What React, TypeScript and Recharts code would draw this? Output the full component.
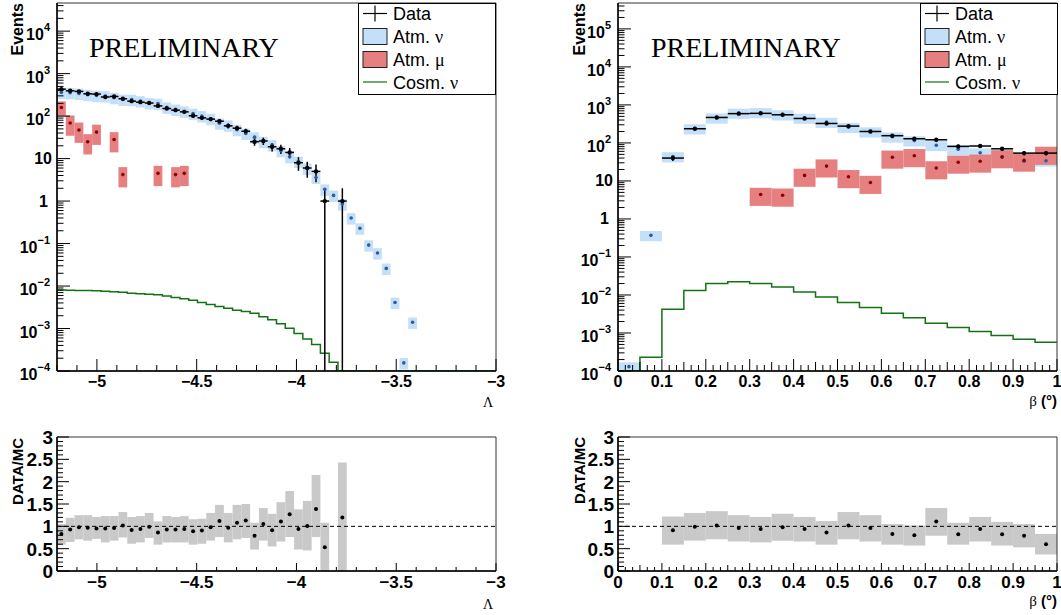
import {
  ComposedChart,
  XAxis,
  YAxis,
  Scatter,
  Line,
  ErrorBar,
  ReferenceArea,
  ReferenceLine,
  Legend,
} from "recharts";

const SANS = '"Liberation Sans", Arial, Helvetica, sans-serif';
const SERIF = '"Liberation Serif", "Times New Roman", serif';

const BLUE = "#c4dff8";
const BLUE_DOT = "#2b5c9c";
const RED = "#e68080";
const RED_DOT = "#8b0000";
const GREEN = "#137313";
const GREY = "#c9c9c9";

const YMIN = 1e-4;
const NU_ERR = 0.3;

// ---- Lambda distribution: 50 bins from -5.2 to -3 ----
const lambdaRange = [-5.2, -3];
const lambdaData = [
  431, 394, 381, 335, 330, 282, 290, 256, 225, 213,
  203, 174, 151, 138, 126, 102, 91, 85, 76, 59,
  52, 44, 25, 26, 19, 17, 14, 8, 6, 5,
  1, 0, 1, 0, 0, 0, 0, 0, 0, 0,
  0, 0, 0, 0, 0, 0, 0, 0, 0, 0,
];
const lambdaNu = [
  359, 355, 342, 320, 305, 297, 272, 247, 245, 227,
  205, 198, 162, 144, 130, 115, 101, 87, 68, 61,
  48, 39, 32, 25, 21, 15.3, 11, 8.5, 5.9, 3.6,
  1.9, 1.36, 0.85, 0.4, 0.23, 0.092, 0.06, 0.026, 0.0041, 0.000155,
  0.0014, 0, 0, 0, 0, 0, 0, 0, 0, 0,
];
const lambdaMu = [
  160, 69, 47, 25, 42, 0, 28, 4.2, 0, 0,
  0, 4.5, 0, 4.2, 4.5, 0, 0, 0, 0, 0,
  0, 0, 0, 0, 0, 0, 0, 0, 0, 0,
  0, 0, 0, 0, 0, 0, 0, 0, 0, 0,
  0, 0, 0, 0, 0, 0, 0, 0, 0, 0,
];
const lambdaMuErr = [
  0.38, 0.5, 0.5, 0.5, 0.5, 0.5, 0.5, 0.5, 0.5, 0.5,
  0.5, 0.5, 0.5, 0.5, 0.5, 0.5, 0.5, 0.5, 0.5, 0.5,
  0.5, 0.5, 0.5, 0.5, 0.5, 0.5, 0.5, 0.5, 0.5, 0.5,
  0.5, 0.5, 0.5, 0.5, 0.5, 0.5, 0.5, 0.5, 0.5, 0.5,
  0.5, 0.5, 0.5, 0.5, 0.5, 0.5, 0.5, 0.5, 0.5, 0.5,
];
const lambdaCosm = [
  0.0081, 0.008, 0.0079, 0.0078, 0.0077, 0.0075, 0.0073, 0.0071, 0.0068, 0.0066,
  0.0064, 0.0062, 0.0058, 0.0054, 0.005, 0.0046, 0.0041, 0.0037, 0.0033, 0.003,
  0.0027, 0.0025, 0.0023, 0.0019, 0.0016, 0.0013, 0.00101, 0.00076, 0.00057, 0.00042,
  0.00026, 0.00016, 0, 0, 0, 0, 0, 0, 0, 0,
  0, 0, 0, 0, 0, 0, 0, 0, 0, 0,
];
const lambdaRatio = [
  0.83, 0.93, 0.98, 0.97, 0.95, 0.95, 0.965, 1.02, 0.92, 0.94,
  0.99, 0.86, 0.93, 0.93, 0.94, 0.89, 0.905, 0.98, 1.12, 0.97,
  1.08, 1.13, 0.79, 1.05, 0.91, 1.11, 1.27, 0.94, 1.01, 1.39,
  0.53, null, 1.2,
];
const lambdaRatioLo = [
  0.59, 0.65, 0.71, 0.68, 0.72, 0.64, 0.68, 0.75, 0.61, 0.64,
  0.74, 0.59, 0.64, 0.64, 0.64, 0.59, 0.61, 0.68, 0.76, 0.64,
  0.71, 0.74, 0.48, 0.68, 0.55, 0.66, 0.76, 0.48, 0.46, 0.76,
  0, null, 0,
];
const lambdaRatioHi = [
  1.05, 1.19, 1.25, 1.25, 1.21, 1.23, 1.23, 1.32, 1.21, 1.23,
  1.3, 1.11, 1.23, 1.21, 1.23, 1.16, 1.17, 1.3, 1.48, 1.3,
  1.48, 1.5, 1.08, 1.41, 1.28, 1.54, 1.79, 1.38, 1.57, 2.15,
  1.08, null, 2.43,
];

// ---- beta distribution: 20 bins from 0 to 1 deg ----
const betaRange = [0, 1];
const betaData = [0, 0, 40, 236, 468, 590, 600, 550, 440, 325, 277, 200, 155, 129, 121, 81, 83, 70, 54, 54];
const betaNu = [0.00013, 0.37, 44, 238, 459, 615, 634, 557, 454, 353, 259, 198, 145, 115, 87, 68, 55, 42, 33, 34];
const betaMu = [0, 0, 0, 0, 0, 0, 4.4, 4.2, 14, 24.6, 12.9, 9.1, 42, 46, 22, 31, 33, 43, 35, 53];
const betaMuErr = [0.5, 0.5, 0.5, 0.5, 0.5, 0.5, 0.5, 0.5, 0.5, 0.5, 0.5, 0.5, 0.5, 0.5, 0.5, 0.5, 0.5, 0.5, 0.5, 0.5];
const betaCosm = [
  0, 0.00023, 0.0042, 0.0132, 0.02, 0.0222, 0.02, 0.0161, 0.012, 0.0089,
  0.0063, 0.0047, 0.0033, 0.0025, 0.0018, 0.0014, 0.0011, 0.00086, 0.00068, 0.00057,
];
const betaRatio = [null, null, 0.91, 0.99, 1.02, 0.96, 0.94, 0.98, 0.94, 0.86, 1.02, 0.965, 0.83, 0.8, 1.11, 0.82, 0.94, 0.82, 0.79, 0.6];
const betaRatioLo = [null, null, 0.59, 0.68, 0.71, 0.66, 0.64, 0.68, 0.66, 0.59, 0.71, 0.66, 0.59, 0.57, 0.79, 0.59, 0.66, 0.57, 0.53, 0.37];
const betaRatioHi = [null, null, 1.22, 1.3, 1.34, 1.25, 1.21, 1.28, 1.21, 1.12, 1.32, 1.25, 1.05, 1.02, 1.41, 1.08, 1.21, 1.1, 1.05, 0.83];

// ---- axis ticks ----
const lambdaMajor = [-5, -4.5, -4, -3.5, -3];
const lambdaTicks = Array.from({ length: 23 }, (_, k) => Number((-5.2 + 0.1 * k).toFixed(4)));
const betaMajor = [0, 0.1, 0.2, 0.3, 0.4, 0.5, 0.6, 0.7, 0.8, 0.9, 1];
const betaMedium = [0.05, 0.15, 0.25, 0.35, 0.45, 0.55, 0.65, 0.75, 0.85, 0.95];
const betaTicks = Array.from({ length: 61 }, (_, k) => Number((k / 60).toFixed(5)));
const ratioMajor = [0, 0.5, 1, 1.5, 2, 2.5, 3];
const ratioTicks = Array.from({ length: 31 }, (_, k) => Number((k * 0.1).toFixed(4)));

const legendLabels = ["Data", "Atm. ", "Atm. ", "Cosm. "];
const legendGreek = ["", "\u03bd", "\u03bc", "\u03bd"];

function logTicks(max: number) {
  const t: number[] = [];
  for (let k = -4; k <= 6; k++) {
    for (let m = 1; m <= 9; m++) {
      const v = Number((m * Math.pow(10, k)).toPrecision(6));
      if (v >= YMIN && v <= max) t.push(v);
    }
  }
  return t;
}

const near = (list: number[], v: number) => list.some((m) => Math.abs(m - v) < 1e-6);
const fmt = (v: number) => (v < 0 ? "\u2212" + String(Math.abs(v)) : String(v));

const LogTick = (props: any) => {
  const { x, y, payload } = props;
  const v = payload.value;
  const k = Math.floor(Math.log10(v) + 1e-9);
  const mant = v / Math.pow(10, k);
  const major = Math.abs(mant - 1) < 1e-6;
  let label = null;
  if (major) {
    if (k === 0) {
      label = (
        <text x={x - 9} y={y + 5.5} textAnchor="end" fontFamily={SANS} fontWeight="bold" fontSize={16} fill="#000">
          1
        </text>
      );
    } else if (k === 1) {
      label = (
        <text x={x - 5} y={y + 5.5} textAnchor="end" fontFamily={SANS} fontWeight="bold" fontSize={16} fill="#000">
          10
        </text>
      );
    } else {
      label = (
        <text x={x - 7} y={y + 9} textAnchor="end" fontFamily={SANS} fontWeight="bold" fontSize={16} fill="#000">
          10
          <tspan dy={-9} fontSize={11}>
            {k < 0 ? "\u2212" + -k : String(k)}
          </tspan>
        </text>
      );
    }
  }
  return (
    <g>
      <line x1={x} x2={x + (major ? 13 : 6.5)} y1={y} y2={y} stroke="#000" strokeWidth={1} />
      {label}
    </g>
  );
};

const RatioYTick = (props: any) => {
  const { x, y, payload } = props;
  const v = payload.value;
  const major = near(ratioMajor, v);
  return (
    <g>
      <line x1={x} x2={x + (major ? 12 : 6)} y1={y} y2={y} stroke="#000" strokeWidth={1} />
      {major && (
        <text x={x - 4} y={y + 7} textAnchor="end" fontFamily={SANS} fontWeight="bold" fontSize={19} fill="#000">
          {fmt(v)}
        </text>
      )}
    </g>
  );
};

function makeXTick(major: number[], medium: number[], lens: number[], fontSize: number, labelDy: number) {
  return (props: any) => {
    const { x, y, payload } = props;
    const v = payload.value;
    const isMajor = near(major, v);
    const isMedium = !isMajor && near(medium, v);
    const len = isMajor ? lens[0] : isMedium ? lens[1] : lens[2];
    return (
      <g>
        <line x1={x} x2={x} y1={y} y2={y - len} stroke="#000" strokeWidth={1} />
        {isMajor && (
          <text x={x} y={y + labelDy} textAnchor="middle" fontFamily={SANS} fontWeight="bold" fontSize={fontSize} fill="#000">
            {fmt(v)}
          </text>
        )}
      </g>
    );
  };
}

const lambdaTopTick = makeXTick(lambdaMajor, [], [12, 6, 6], 16, 16);
const lambdaRatioTick = makeXTick(lambdaMajor, [], [8, 4, 4], 17, 17);
const betaTopTick = makeXTick(betaMajor, betaMedium, [12, 9, 6], 16, 16);
const betaRatioTick = makeXTick(betaMajor, betaMedium, [8, 6, 4], 17, 17);

const dot = (r: number, color: string) => (props: any) =>
  <circle cx={props.cx} cy={props.cy} r={r} fill={color} />;

function LegendBox() {
  const rowY = [10.5, 33.5, 56.5, 79];
  return (
    <svg width={138} height={92} style={{ display: "block" }}>
      <rect x={0.5} y={0.5} width={137} height={91} fill="#fff" stroke="#000" strokeWidth={1} />
      <line x1={5} x2={29} y1={rowY[0]} y2={rowY[0]} stroke="#000" strokeWidth={1.2} />
      <line x1={17} x2={17} y1={rowY[0] - 8} y2={rowY[0] + 8} stroke="#000" strokeWidth={1.2} />
      <rect x={5} y={rowY[1] - 8} width={24} height={16} fill={BLUE} stroke="#222" strokeWidth={1} />
      <rect x={5} y={rowY[2] - 8} width={24} height={16} fill={RED} stroke="#222" strokeWidth={1} />
      <line x1={5} x2={29} y1={rowY[3]} y2={rowY[3]} stroke={GREEN} strokeWidth={1.2} />
      {legendLabels.map((l, i) => (
        <text key={i} x={35} y={rowY[i] + 6.5} fontFamily={SANS} fontSize={18} fill="#000">
          {l}
          {legendGreek[i] && <tspan fontFamily={SERIF}>{legendGreek[i]}</tspan>}
        </text>
      ))}
    </svg>
  );
}

type HistProps = {
  width: number;
  height: number;
  margin: { top: number; right: number; bottom: number; left: number };
  range: number[];
  data: number[];
  nu: number[];
  mu: number[];
  muErr: number[];
  cosm: number[];
  yMax: number;
  xTicks: number[];
  xTick: (p: any) => any;
  legendLeft: number;
};

function HistPanel(p: HistProps) {
  const [xMin, xMax] = p.range;
  const n = p.data.length;
  const w = (xMax - xMin) / n;
  const mid = (i: number) => xMin + w * (i + 0.5);
  const dataPts: any[] = [];
  p.data.forEach((v, i) => {
    if (v > 0) {
      const e = Math.sqrt(v);
      dataPts.push({ x: mid(i), y: v, ey: [Math.min(e, v - YMIN), e], ex: w / 2 });
    }
  });
  const nuPts = p.nu.map((v, i) => ({ x: mid(i), y: v })).filter((d) => d.y > 0);
  const muPts = p.mu.map((v, i) => ({ x: mid(i), y: v, e: p.muErr[i] })).filter((d) => d.y > 0);
  const cosmLine = p.cosm.map((v, i) => ({ x: xMin + w * i, y: Math.max(v, YMIN) }));
  cosmLine.push({ x: xMax, y: Math.max(p.cosm[n - 1], YMIN) });

  return (
    <ComposedChart width={p.width} height={p.height} margin={p.margin}>
      <XAxis
        type="number"
        dataKey="x"
        domain={[xMin, xMax]}
        allowDataOverflow
        ticks={p.xTicks}
        interval={0}
        tick={p.xTick}
        tickLine={false}
        tickSize={0}
        tickMargin={0}
        height={30}
        axisLine={{ stroke: "#000", strokeWidth: 1.5 }}
      />
      <YAxis
        type="number"
        dataKey="y"
        scale="log"
        domain={[YMIN, p.yMax]}
        allowDataOverflow
        ticks={logTicks(p.yMax)}
        interval={0}
        tick={LogTick}
        tickLine={false}
        tickSize={0}
        tickMargin={0}
        width={50}
        axisLine={{ stroke: "#000", strokeWidth: 1.5 }}
      />
      {nuPts.map((d, i) => (
        <ReferenceArea
          key={"nu" + i}
          x1={d.x - w / 2}
          x2={d.x + w / 2}
          y1={Math.max(d.y * (1 - NU_ERR), YMIN)}
          y2={d.y * (1 + NU_ERR)}
          fill={BLUE}
          fillOpacity={1}
          stroke="none"
          ifOverflow="hidden"
        />
      ))}
      {muPts.map((d, i) => (
        <ReferenceArea
          key={"mu" + i}
          x1={d.x - w / 2}
          x2={d.x + w / 2}
          y1={Math.max(d.y * (1 - d.e), YMIN)}
          y2={d.y * (1 + d.e)}
          fill={RED}
          fillOpacity={1}
          stroke="none"
          ifOverflow="hidden"
        />
      ))}
      <ReferenceArea x1={xMin} x2={xMax} y1={YMIN} y2={p.yMax} fill="none" stroke="#333" strokeWidth={1} ifOverflow="visible" />
      <Line data={cosmLine} dataKey="y" type="stepAfter" stroke={GREEN} strokeWidth={1.5} dot={false} isAnimationActive={false} />
      <Scatter data={nuPts} dataKey="y" fill={BLUE_DOT} shape={dot(1.8, BLUE_DOT)} isAnimationActive={false} />
      <Scatter data={muPts} dataKey="y" fill={RED_DOT} shape={dot(1.8, RED_DOT)} isAnimationActive={false} />
      <Scatter data={dataPts} dataKey="y" fill="#000" shape={dot(2.2, "#000")} isAnimationActive={false}>
        <ErrorBar dataKey="ey" direction="y" width={0} stroke="#000" strokeWidth={1.5} isAnimationActive={false} />
        <ErrorBar dataKey="ex" direction="x" width={0} stroke="#000" strokeWidth={1.5} isAnimationActive={false} />
      </Scatter>
      <Legend
        verticalAlign="middle"
        align="center"
        layout="horizontal"
        wrapperStyle={{ left: p.legendLeft, top: 3, width: 138, height: 92 }}
        content={() => <LegendBox />}
      />
    </ComposedChart>
  );
}

type RatioProps = {
  width: number;
  height: number;
  margin: { top: number; right: number; bottom: number; left: number };
  range: number[];
  nBins: number;
  ratio: (number | null)[];
  lo: (number | null)[];
  hi: (number | null)[];
  xTicks: number[];
  xTick: (p: any) => any;
};

function RatioPanel(p: RatioProps) {
  const [xMin, xMax] = p.range;
  const w = (xMax - xMin) / p.nBins;
  const mid = (i: number) => xMin + w * (i + 0.5);
  const pts = p.ratio
    .map((v, i) => (v == null ? null : { x: mid(i), y: v, lo: p.lo[i] as number, hi: p.hi[i] as number }))
    .filter((d) => d !== null) as { x: number; y: number; lo: number; hi: number }[];

  return (
    <ComposedChart width={p.width} height={p.height} margin={p.margin}>
      <XAxis
        type="number"
        dataKey="x"
        domain={[xMin, xMax]}
        allowDataOverflow
        ticks={p.xTicks}
        interval={0}
        tick={p.xTick}
        tickLine={false}
        tickSize={0}
        tickMargin={0}
        height={30}
        axisLine={{ stroke: "#000", strokeWidth: 1.5 }}
      />
      <YAxis
        type="number"
        dataKey="y"
        domain={[0, 3]}
        allowDataOverflow
        ticks={ratioTicks}
        interval={0}
        tick={RatioYTick}
        tickLine={false}
        tickSize={0}
        tickMargin={0}
        width={50}
        axisLine={{ stroke: "#000", strokeWidth: 1.5 }}
      />
      {pts.map((d, i) => (
        <ReferenceArea
          key={"r" + i}
          x1={d.x - w / 2}
          x2={d.x + w / 2}
          y1={d.lo}
          y2={d.hi}
          fill={GREY}
          fillOpacity={1}
          stroke="none"
          ifOverflow="hidden"
        />
      ))}
      <ReferenceLine y={1} stroke="#000" strokeWidth={1} strokeDasharray="4 3" />
      <ReferenceArea x1={xMin} x2={xMax} y1={0} y2={3} fill="none" stroke="#333" strokeWidth={1} ifOverflow="visible" />
      <Scatter data={pts} dataKey="y" fill="#000" shape={dot(2, "#000")} isAnimationActive={false} />
    </ComposedChart>
  );
}

export default function App() {
  return (
    <div style={{ position: "absolute", left: 0, top: 0, width: 1061, height: 615, background: "#fff", overflow: "hidden" }}>
      <div style={{ position: "absolute", left: 0, top: 0 }}>
        <HistPanel
          width={530}
          height={415}
          margin={{ top: 3, right: 34, bottom: 14, left: 7 }}
          range={lambdaRange}
          data={lambdaData}
          nu={lambdaNu}
          mu={lambdaMu}
          muErr={lambdaMuErr}
          cosm={lambdaCosm}
          yMax={4.6e4}
          xTicks={lambdaTicks}
          xTick={lambdaTopTick}
          legendLeft={358}
        />
      </div>
      <div style={{ position: "absolute", left: 530, top: 0 }}>
        <HistPanel
          width={531}
          height={415}
          margin={{ top: 3, right: 4, bottom: 14, left: 38 }}
          range={betaRange}
          data={betaData}
          nu={betaNu}
          mu={betaMu}
          muErr={betaMuErr}
          cosm={betaCosm}
          yMax={4.8e5}
          xTicks={betaTicks}
          xTick={betaTopTick}
          legendLeft={390}
        />
      </div>
      <div style={{ position: "absolute", left: 0, top: 415 }}>
        <RatioPanel
          width={530}
          height={200}
          margin={{ top: 22, right: 34, bottom: 14, left: 7 }}
          range={lambdaRange}
          nBins={50}
          ratio={lambdaRatio}
          lo={lambdaRatioLo}
          hi={lambdaRatioHi}
          xTicks={lambdaTicks}
          xTick={lambdaRatioTick}
        />
      </div>
      <div style={{ position: "absolute", left: 530, top: 415 }}>
        <RatioPanel
          width={531}
          height={200}
          margin={{ top: 22, right: 4, bottom: 14, left: 38 }}
          range={betaRange}
          nBins={20}
          ratio={betaRatio}
          lo={betaRatioLo}
          hi={betaRatioHi}
          xTicks={betaTicks}
          xTick={betaRatioTick}
        />
      </div>
      <svg width={1061} height={615} style={{ position: "absolute", left: 0, top: 0, pointerEvents: "none" }}>
        <g fontFamily={SANS} fontWeight="bold" fill="#000">
          <text transform="translate(22.5,3) rotate(-90)" textAnchor="end" fontSize={16}>Events</text>
          <text transform="translate(585,3) rotate(-90)" textAnchor="end" fontSize={16}>Events</text>
          <text transform="translate(22.5,438) rotate(-90)" textAnchor="end" fontSize={15}>DATA/MC</text>
          <text transform="translate(585,437) rotate(-90)" textAnchor="end" fontSize={15}>DATA/MC</text>
        </g>
        <g fontFamily={SERIF} fill="#000">
          <text x={89} y={57} fontSize={28}>PRELIMINARY</text>
          <text x={651} y={57} fontSize={28}>PRELIMINARY</text>
          <text x={488} y={407} fontSize={14} textAnchor="middle">{"\u039b"}</text>
          <text x={488} y={609} fontSize={14} textAnchor="middle">{"\u039b"}</text>
          <text x={1057} y={406} fontSize={15} textAnchor="end">
            {"\u03b2"}
            <tspan fontFamily={SANS} fontWeight="bold">{" (\u00b0)"}</tspan>
          </text>
          <text x={1057} y={606} fontSize={15} textAnchor="end">
            {"\u03b2"}
            <tspan fontFamily={SANS} fontWeight="bold">{" (\u00b0)"}</tspan>
          </text>
        </g>
      </svg>
    </div>
  );
}
